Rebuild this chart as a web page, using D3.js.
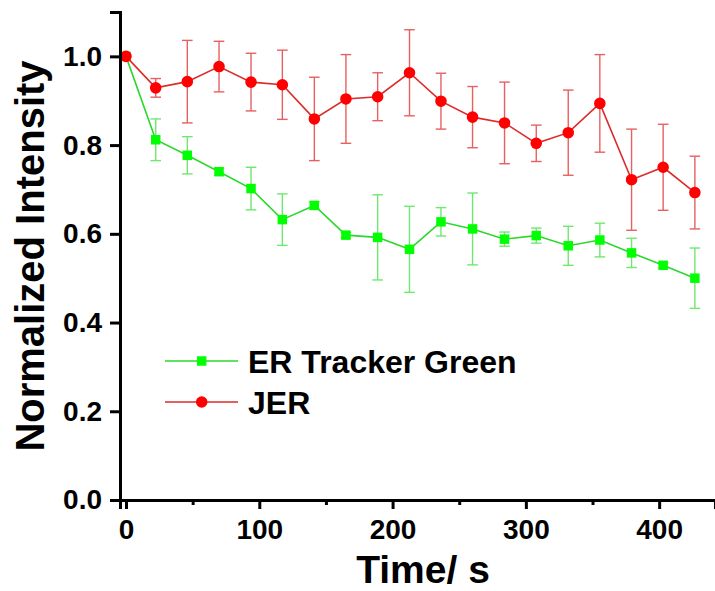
<!DOCTYPE html>
<html>
<head>
<meta charset="utf-8">
<script src="https://cdn.jsdelivr.net/npm/d3@7"></script>
<style>
  body { margin: 0; background: #fff; }
  svg { display: block; font-family: "Liberation Sans", Arial, sans-serif; font-weight: bold; }
</style>
</head>
<body>
<div id="chart"></div>
<script>
// time points (s)
var times = [0, 22.3, 46, 69.8, 93.8, 117.3, 141.3, 165, 188.8, 212.7, 236.3, 260, 284, 307.8, 331.8, 355.5, 379.3, 403, 426.8];

// ER Tracker Green
var greenMean = [1.0, 0.812, 0.777, 0.740, 0.702, 0.632, 0.664, 0.597, 0.592, 0.565, 0.627, 0.611, 0.588, 0.596, 0.573, 0.586, 0.557, 0.529, 0.500];
var greenErr  = [0, 0.047, 0.042, 0.008, 0.048, 0.058, 0.008, 0.006, 0.096, 0.097, 0.032, 0.081, 0.016, 0.017, 0.044, 0.038, 0.033, 0.006, 0.068];

// JER
var redMean = [1.0, 0.929, 0.943, 0.977, 0.942, 0.936, 0.859, 0.904, 0.909, 0.963, 0.899, 0.863, 0.850, 0.804, 0.828, 0.894, 0.722, 0.750, 0.693];
var redErr  = [0, 0.021, 0.093, 0.057, 0.065, 0.078, 0.094, 0.100, 0.054, 0.097, 0.063, 0.069, 0.092, 0.041, 0.096, 0.110, 0.114, 0.097, 0.082];

var xTicks = [0, 100, 200, 300, 400];
var xMinor = [50, 150, 250, 350];
var yTicks = [0, 0.2, 0.4, 0.6, 0.8, 1.0];

var W = 715, H = 591;
var mLeft = 120, mRight = 715, mTop = 12, mBottom = 500;

var svg = d3.select("#chart").append("svg")
    .attr("width", W)
    .attr("height", H);

var x = d3.scaleLinear().domain([-4.5, 441.9]).range([mLeft, mRight]);
var y = d3.scaleLinear().domain([0, 1.1]).range([mBottom, mTop]);

function series(mean, err, opts) {
    var data = times.map(function(t, i) { return { t: t, v: mean[i], e: err[i] }; });
    var g = svg.append("g");

    // error bars
    var eb = g.selectAll("g.err").data(data.filter(function(d) { return d.e > 0; }))
        .enter().append("g")
        .attr("stroke", opts.errColor)
        .attr("stroke-width", 1.4);
    eb.append("line")
        .attr("x1", function(d) { return x(d.t); })
        .attr("x2", function(d) { return x(d.t); })
        .attr("y1", function(d) { return y(d.v + d.e); })
        .attr("y2", function(d) { return y(d.v - d.e); });
    [1, -1].forEach(function(s) {
        eb.append("line")
            .attr("x1", function(d) { return x(d.t) - 5.3; })
            .attr("x2", function(d) { return x(d.t) + 5.3; })
            .attr("y1", function(d) { return y(d.v + s * d.e); })
            .attr("y2", function(d) { return y(d.v + s * d.e); });
    });

    g.append("path")
        .datum(data)
        .attr("fill", "none")
        .attr("stroke", opts.lineColor)
        .attr("stroke-width", 1.6)
        .attr("d", d3.line().x(function(d) { return x(d.t); }).y(function(d) { return y(d.v); }));

    var sym = d3.symbol().type(opts.symbol).size(opts.size);
    g.selectAll("path.pt").data(data).enter().append("path")
        .attr("class", "pt")
        .attr("d", sym)
        .attr("transform", function(d) { return "translate(" + x(d.t) + "," + y(d.v) + ")"; })
        .attr("fill", opts.color);
}

var greenOpts = { color: "#00ff00", lineColor: "#2bd82b", errColor: "#6fe86f", symbol: d3.symbolSquare, size: 90 };
var redOpts = { color: "#ff0000", lineColor: "#dd2a2a", errColor: "#e66060", symbol: d3.symbolCircle, size: 105 };

series(greenMean, greenErr, greenOpts);
series(redMean, redErr, redOpts);

// axes
svg.append("g")
    .attr("transform", "translate(0," + mBottom + ")")
    .call(d3.axisBottom(x).tickValues(xTicks).tickSize(9).tickPadding(10).tickFormat(d3.format("d")));
svg.append("g")
    .attr("transform", "translate(0," + mBottom + ")")
    .call(d3.axisBottom(x).tickValues(xMinor).tickSize(5).tickFormat(""))
    .select(".domain").remove();
svg.append("g")
    .attr("transform", "translate(" + mLeft + ",0)")
    .call(d3.axisLeft(y).tickValues(yTicks).tickSize(10).tickPadding(8).tickFormat(d3.format(".1f")));

svg.selectAll(".domain").attr("stroke", "#000").attr("stroke-width", 3);
svg.selectAll(".tick line").attr("stroke", "#000").attr("stroke-width", 3);
svg.selectAll(".tick text")
    .attr("fill", "#000")
    .style("font-size", "28px")
    .style("font-weight", "bold")
    .style("font-family", "'Liberation Sans', Arial, sans-serif");

// axis titles
svg.append("text")
    .attr("x", 423)
    .attr("y", 583)
    .attr("text-anchor", "middle")
    .style("font-size", "39px")
    .text("Time/ s");

svg.append("text")
    .attr("transform", "translate(44,256) rotate(-90)")
    .attr("text-anchor", "middle")
    .style("font-size", "40px")
    .text("Normalized Intensity");

// legend
var legend = [
    { name: "ER Tracker Green", opts: greenOpts, cy: 361 },
    { name: "JER", opts: redOpts, cy: 402 }
];
legend.forEach(function(l) {
    svg.append("line")
        .attr("x1", 165).attr("x2", 238)
        .attr("y1", l.cy).attr("y2", l.cy)
        .attr("stroke", l.opts.lineColor)
        .attr("stroke-width", 1.6);
    svg.append("path")
        .attr("d", d3.symbol().type(l.opts.symbol).size(l.opts.size)())
        .attr("transform", "translate(201.7," + l.cy + ")")
        .attr("fill", l.opts.color);
    svg.append("text")
        .attr("x", 248)
        .attr("y", l.cy + 11.5)
        .style("font-size", "32px")
        .text(l.name);
});
</script>
</body>
</html>
